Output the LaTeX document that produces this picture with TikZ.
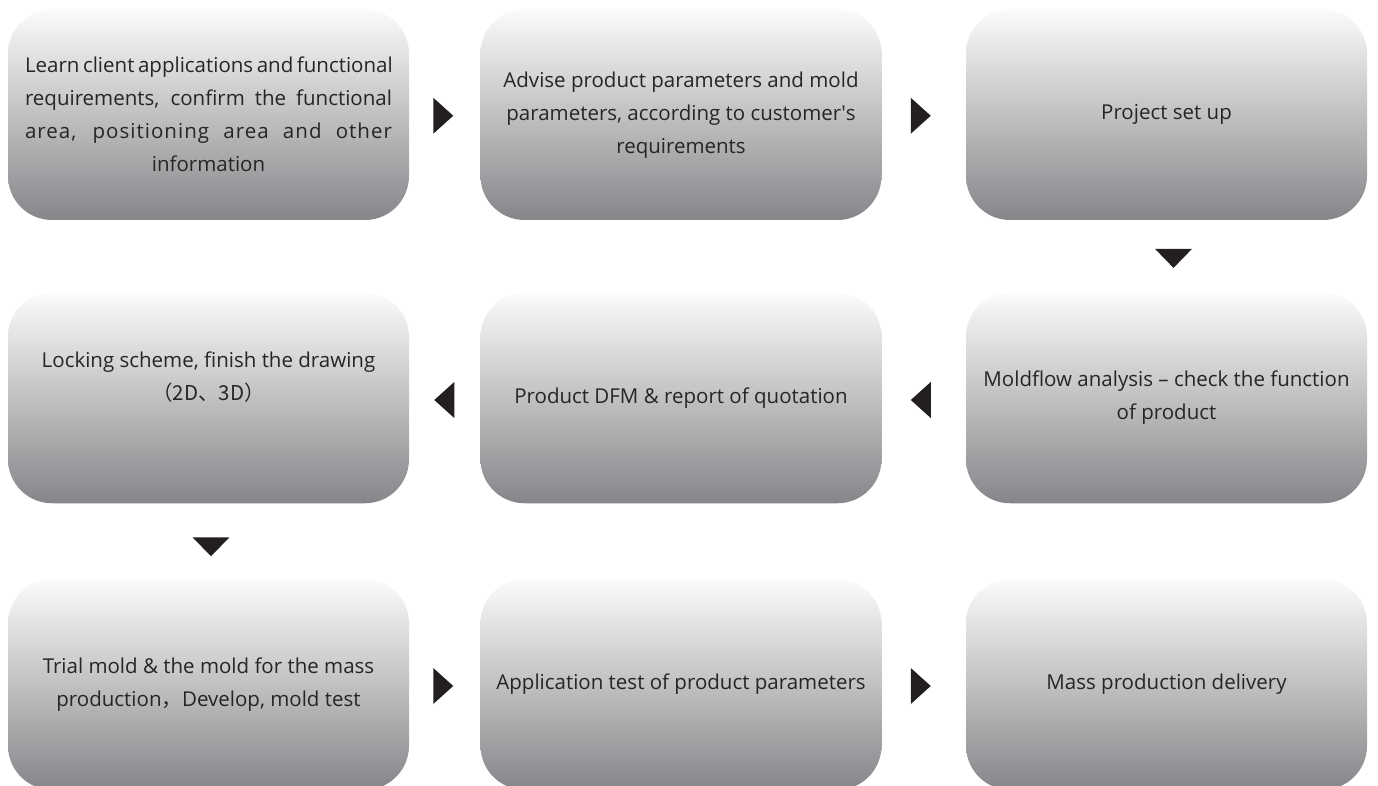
\documentclass[tikz,border=0pt]{standalone}
\usepackage{fontspec}
\setmainfont{Open Sans}
\newfontfamily\cjk{Noto Sans CJK SC}
\usetikzlibrary{calc}
\definecolor{txt}{RGB}{38,38,38}
\definecolor{boxbot}{RGB}{133,134,137}
\definecolor{boxtop}{RGB}{251,251,251}
\definecolor{tri}{RGB}{35,31,32}
\tikzset{
  stepbox/.style={rounded corners=44pt, minimum width=401pt, minimum height=210.5pt,
    inner sep=0pt, top color=boxtop, bottom color=boxbot, draw=none,
    text=txt, align=center, font=\fontsize{20.5}{33}\selectfont},
  steptext/.style={text=txt, align=center, inner sep=0pt, font=\fontsize{20.5}{33}\selectfont},
  tri/.style={fill=tri, draw=none}
}
\newcommand\trright[1]{\fill[tri] #1 ++(0,-18) -- ++(20,18) -- ++(-20,18) -- cycle;}
\newcommand\trleft[1]{\fill[tri] #1 -- ++(20,-18) -- ++(0,36) -- cycle;}
\newcommand\trdown[1]{\fill[tri] #1 ++(-18.5,0) -- ++(37,0) -- ++(-18.5,19) -- cycle;}
\begin{document}
\begin{tikzpicture}[x=1pt,y=-1pt]
\useasboundingbox (0,0) rectangle (1378,786);
% row 1
\node[stepbox] (b1) at (208.5,114.75) {%
  \makebox[367pt][s]{Learn client applications and functional}\\
  \makebox[367pt][s]{requirements, confirm the functional}\\
  {\addfontfeature{LetterSpace=5}\makebox[367pt][s]{area, positioning area and other}}\\
  information};
\node[stepbox] (b2) at (681,114.75) {Advise product parameters and mold\\parameters, according to customer\textquotesingle s\\requirements};
\node[stepbox] (b3) at (1166.5,114.75) {Project set up};
% row 2
\node[stepbox] (b4) at (208.5,398) {};
\node[steptext] (t4) at ($(b4.center)+(0,-21)$) {Locking scheme, finish the drawing\\{\cjk （2D、3D）}};
\node[stepbox] (b5) at (681,398) {Product DFM \& report of quotation};
\node[stepbox] (b6) at (1166.5,398) {Moldflow analysis -- check the function\\of product};
% row 3
\node[stepbox] (b7) at (208.5,684.5) {Trial mold \& the mold for the mass\\production{\cjk ，}Develop, mold test};
\node[stepbox] (b8) at (681,684.5) {Application test of product parameters};
\node[stepbox] (b9) at (1166.5,684.5) {Mass production delivery};
% triangles
\trright{($(b1.east)!0.5!(b2.west)+(-11.5,1)$)}
\trright{($(b2.east)!0.5!(b3.west)+(-13,1)$)}
\trdown{($(b3.south)!0.5!(b6.north)+(7,-7.5)$)}
\trleft{($(b5.east)!0.5!(b6.west)+(-13,2)$)}
\trleft{($(b4.east)!0.5!(b5.west)+(-10.5,2)$)}
\trdown{($(b4.south)!0.5!(b7.north)+(2.5,-4)$)}
\trright{($(b7.east)!0.5!(b8.west)+(-11.5,1.5)$)}
\trright{($(b8.east)!0.5!(b9.west)+(-13,1.5)$)}
\end{tikzpicture}
\end{document}
